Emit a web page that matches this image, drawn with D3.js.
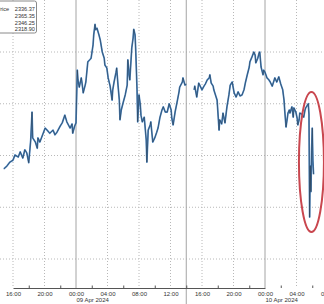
<!DOCTYPE html>
<html>
<head>
<meta charset="utf-8">
<script src="https://cdn.jsdelivr.net/npm/d3@7"></script>
<style>
  html, body { margin: 0; padding: 0; background: #fff; }
  svg { display: block; font-family: "Liberation Sans", Arial, sans-serif; }
</style>
</head>
<body>
<svg width="324" height="304"></svg>
<script>
// price readings, two sessions split by the daily break (null = no trading)
const times = [
  "2024-04-08 14:50","2024-04-08 15:15","2024-04-08 15:35","2024-04-08 16:00","2024-04-08 16:15",
  "2024-04-08 16:40","2024-04-08 16:55","2024-04-08 17:15","2024-04-08 17:30","2024-04-08 17:45",
  "2024-04-08 18:00","2024-04-08 18:15","2024-04-08 18:25","2024-04-08 18:30","2024-04-08 18:50",
  "2024-04-08 19:05","2024-04-08 19:10","2024-04-08 19:25","2024-04-08 19:50","2024-04-08 20:05",
  "2024-04-08 20:20","2024-04-08 20:40","2024-04-08 21:05","2024-04-08 21:20","2024-04-08 21:35",
  "2024-04-08 22:00","2024-04-08 22:15","2024-04-08 22:35","2024-04-08 22:50","2024-04-08 23:15",
  "2024-04-08 23:30","2024-04-08 23:35","2024-04-08 23:50","2024-04-09 00:00","2024-04-09 00:10",
  "2024-04-09 00:15","2024-04-09 00:25","2024-04-09 00:40","2024-04-09 00:45","2024-04-09 00:55",
  "2024-04-09 01:10","2024-04-09 01:15","2024-04-09 01:30","2024-04-09 01:45","2024-04-09 01:55",
  "2024-04-09 02:10","2024-04-09 02:15","2024-04-09 02:25","2024-04-09 02:30","2024-04-09 02:40",
  "2024-04-09 02:55","2024-04-09 03:05","2024-04-09 03:20","2024-04-09 03:35","2024-04-09 03:40",
  "2024-04-09 03:55","2024-04-09 04:05","2024-04-09 04:20","2024-04-09 04:35","2024-04-09 04:40",
  "2024-04-09 04:50","2024-04-09 05:05","2024-04-09 05:10","2024-04-09 05:20","2024-04-09 05:30",
  "2024-04-09 05:35","2024-04-09 05:45","2024-04-09 06:00","2024-04-09 06:15","2024-04-09 06:30",
  "2024-04-09 06:35","2024-04-09 06:45","2024-04-09 06:50","2024-04-09 07:05","2024-04-09 07:15",
  "2024-04-09 07:20","2024-04-09 07:30","2024-04-09 07:35","2024-04-09 07:45","2024-04-09 07:50",
  "2024-04-09 08:00","2024-04-09 08:10","2024-04-09 08:15","2024-04-09 08:25","2024-04-09 08:40",
  "2024-04-09 08:55","2024-04-09 09:00","2024-04-09 09:10","2024-04-09 09:25","2024-04-09 09:30",
  "2024-04-09 09:45","2024-04-09 10:00","2024-04-09 10:15","2024-04-09 10:25","2024-04-09 10:40",
  "2024-04-09 10:55","2024-04-09 11:05","2024-04-09 11:20","2024-04-09 11:35","2024-04-09 11:50",
  "2024-04-09 12:05","2024-04-09 12:10","2024-04-09 12:20","2024-04-09 12:35","2024-04-09 12:50",
  "2024-04-09 13:05","2024-04-09 13:10","2024-04-09 13:30","2024-04-09 13:35","2024-04-09 13:50",
  "2024-04-09 14:00","2024-04-09 14:30",
  "2024-04-09 15:00","2024-04-09 15:05","2024-04-09 15:20","2024-04-09 15:35","2024-04-09 16:00",
  "2024-04-09 16:15","2024-04-09 16:25","2024-04-09 16:40","2024-04-09 16:55","2024-04-09 17:00",
  "2024-04-09 17:10","2024-04-09 17:25","2024-04-09 17:30","2024-04-09 17:45","2024-04-09 17:55",
  "2024-04-09 18:00","2024-04-09 18:10","2024-04-09 18:15","2024-04-09 18:30","2024-04-09 18:40",
  "2024-04-09 18:55","2024-04-09 19:10","2024-04-09 19:25","2024-04-09 19:35","2024-04-09 19:50",
  "2024-04-09 20:05","2024-04-09 20:20","2024-04-09 20:35","2024-04-09 20:50","2024-04-09 21:05",
  "2024-04-09 21:20","2024-04-09 21:30","2024-04-09 21:45","2024-04-09 22:00","2024-04-09 22:05",
  "2024-04-09 22:20","2024-04-09 22:35","2024-04-09 22:45","2024-04-09 22:50","2024-04-09 23:05",
  "2024-04-09 23:15","2024-04-09 23:20","2024-04-09 23:30","2024-04-09 23:45","2024-04-09 23:50",
  "2024-04-10 00:00","2024-04-10 00:15","2024-04-10 00:30","2024-04-10 00:40","2024-04-10 00:55",
  "2024-04-10 01:10","2024-04-10 01:15","2024-04-10 01:30","2024-04-10 01:45","2024-04-10 02:00",
  "2024-04-10 02:15","2024-04-10 02:25","2024-04-10 02:30","2024-04-10 02:40","2024-04-10 02:50",
  "2024-04-10 02:55","2024-04-10 03:05","2024-04-10 03:10","2024-04-10 03:25","2024-04-10 03:35",
  "2024-04-10 03:40","2024-04-10 03:55","2024-04-10 04:05","2024-04-10 04:10","2024-04-10 04:20",
  "2024-04-10 04:25","2024-04-10 04:40","2024-04-10 04:55","2024-04-10 05:05","2024-04-10 05:10",
  "2024-04-10 05:30","2024-04-10 05:35","2024-04-10 05:40","2024-04-10 05:45","2024-04-10 05:50",
  "2024-04-10 05:55","2024-04-10 06:00","2024-04-10 06:05","2024-04-10 06:10"
];
const prices = [
  2337.4,2338.0,2338.7,2339.1,2340.1,
  2339.7,2340.7,2339.5,2341.1,2340.5,
  2338.6,2343.0,2348.4,2343.4,2342.6,
  2341.4,2343.4,2342.6,2344.3,2345.3,
  2344.9,2344.3,2344.9,2344.0,2344.5,
  2345.7,2346.3,2347.8,2346.5,2345.3,
  2346.1,2344.3,2345.7,2346.3,2356.5,
  2354.6,2353.2,2355.0,2354.2,2352.1,
  2353.6,2354.2,2358.1,2358.5,2358.8,
  2361.4,2363.3,2365.35,2364.3,2364.6,
  2363.3,2362.3,2360.0,2358.8,2357.5,
  2356.9,2355.0,2353.4,2350.7,2352.7,
  2354.2,2356.1,2356.9,2353.6,2350.7,
  2346.9,2348.8,2350.3,2351.7,2353.6,
  2358.5,2355.6,2354.6,2360.8,2362.7,
  2364.4,2363.3,2360.4,2352.7,2346.5,
  2351.7,2349.8,2347.8,2346.5,2347.4,
  2343.0,2338.7,2344.9,2345.9,2346.5,
  2342.6,2343.4,2344.5,2345.3,2347.4,
  2348.8,2349.4,2348.4,2348.4,2350.0,
  2348.8,2347.2,2345.9,2348.4,2350.3,
  2352.3,2353.2,2354.2,2355.0,2353.6,
  2353.8,null,
  2352.7,2353.4,2351.3,2354.0,2352.7,
  2353.4,2353.8,2354.6,2355.0,2355.6,
  2354.0,2353.4,2352.7,2351.5,2350.7,
  2348.8,2344.9,2346.9,2346.1,2348.2,
  2346.3,2349.4,2351.7,2353.6,2354.2,
  2352.1,2351.3,2352.3,2351.5,2351.7,
  2352.7,2354.0,2355.6,2357.1,2358.1,
  2359.0,2360.0,2359.4,2357.9,2358.8,
  2359.8,2360.0,2357.1,2355.6,2356.5,
  2356.1,2355.0,2354.6,2354.2,2353.4,
  2354.6,2355.0,2354.2,2355.2,2353.8,
  2352.7,2350.7,2348.8,2345.5,2347.2,
  2348.2,2348.8,2348.2,2349.4,2347.4,
  2349.2,2348.4,2347.2,2345.9,2346.9,
  2348.2,2348.0,2347.4,2348.8,2349.2,
  2350.0,2348.0,2328.1,2338.0,2333.0,
  2341.0,2345.3,2339.0,2336.37
];
const priceTicks = [2320, 2330, 2340, 2350, 2360, 2370];
const legendLabel = "Price";
const legendValues = [2336.37, 2365.35, 2346.25, 2318.90];
const dateLabels = ["2024-04-09 00:00", "2024-04-10 00:00"];
const sessionBreaks = ["2024-04-09 14:00"];

const W = 324, H = 304, axisY = 288;
const parse = d3.timeParse("%Y-%m-%d %H:%M");
const data = times.map((t, i) => ({ t: parse(t), v: prices[i] }));

const x = d3.scaleTime()
  .domain([parse("2024-04-08 16:00"), parse("2024-04-10 00:00")])
  .range([13, 265]);
const y = d3.scaleLinear()
  .domain([2320, 2360])
  .range([259, 52]);

const svg = d3.select("svg");
const t0 = x.invert(0), t1 = x.invert(W + 20);

// horizontal grid
svg.append("g")
  .selectAll("line")
  .data(priceTicks.filter(p => y(p) > 2 && y(p) < axisY - 2))
  .join("line")
  .attr("x1", 0).attr("x2", W)
  .attr("y1", d => y(d)).attr("y2", d => y(d))
  .attr("stroke", "#b8b8b8")
  .attr("stroke-dasharray", "1,2");

// vertical grid: dotted every 4h, solid at midnight
const major = d3.timeHour.every(4).range(t0, t1);
svg.append("g")
  .selectAll("line")
  .data(major)
  .join("line")
  .attr("x1", d => x(d)).attr("x2", d => x(d))
  .attr("y1", 0).attr("y2", axisY)
  .attr("stroke", d => d.getHours() === 0 ? "#a4a4a4" : "#b8b8b8")
  .attr("stroke-dasharray", d => d.getHours() === 0 ? null : "1,2");

// session break line runs through the date row too
svg.append("g")
  .selectAll("line")
  .data(sessionBreaks.map(parse))
  .join("line")
  .attr("x1", d => x(d)).attr("x2", d => x(d))
  .attr("y1", 0).attr("y2", H)
  .attr("stroke", "#a4a4a4");

// price line
const line = d3.line()
  .defined(d => d.v != null)
  .x(d => x(d.t))
  .y(d => y(d.v));

svg.append("path")
  .datum(data)
  .attr("fill", "none")
  .attr("stroke", "#4a86c4")
  .attr("stroke-width", 1.7)
  .attr("stroke-linejoin", "round")
  .attr("d", line);
svg.append("path")
  .datum(data)
  .attr("fill", "none")
  .attr("stroke", "#26313c")
  .attr("stroke-width", 0.7)
  .attr("stroke-opacity", 0.75)
  .attr("stroke-linejoin", "round")
  .attr("d", line);

// red highlight round the sell-off
const sell = data.slice(-9);
const sx = d3.extent(sell, d => x(d.t));
svg.append("ellipse")
  .attr("cx", (sx[0] + sx[1]) / 2 + 0.5)
  .attr("cy", 162)
  .attr("rx", 12.5)
  .attr("ry", 70)
  .attr("fill", "none")
  .attr("stroke", "#c9474f")
  .attr("stroke-width", 2);

// x axis
const xAxis = d3.axisBottom(x)
  .tickValues(major)
  .tickFormat(d3.timeFormat("%H:%M"))
  .tickSize(0)
  .tickPadding(3.5);
const gx = svg.append("g")
  .attr("transform", `translate(0,${axisY})`)
  .call(xAxis);
gx.select(".domain").attr("stroke", "#555");
gx.selectAll("text")
  .attr("font-family", "Liberation Sans, Arial, sans-serif")
  .attr("font-size", 6)
  .attr("fill", "#333");

const minor = d3.timeHour.every(2).range(t0, t1).filter(d => d.getHours() % 4 === 2);
const gm = svg.append("g")
  .attr("transform", `translate(0,${axisY})`)
  .call(d3.axisBottom(x).tickValues(minor).tickFormat("").tickSizeInner(-2.5).tickSizeOuter(0));
gm.select(".domain").remove();
gm.selectAll("line").attr("stroke", "#555");

svg.append("g")
  .selectAll("text")
  .data(dateLabels.map(parse))
  .join("text")
  .attr("x", d => x(d) + 0.5)
  .attr("y", 301.7)
  .attr("font-size", 6)
  .attr("fill", "#333")
  .text(d3.timeFormat("%d %b %Y"));

// legend box
const lg = svg.append("g");
lg.append("rect")
  .attr("x", -6).attr("y", 1)
  .attr("width", 42.5).attr("height", 32)
  .attr("rx", 2)
  .attr("fill", "#fff")
  .attr("stroke", "#8a8a8a");
lg.append("text")
  .attr("x", -3.6).attr("y", 11)
  .attr("font-size", 5.6)
  .attr("fill", "#333")
  .text(legendLabel);
lg.selectAll("text.val")
  .data(legendValues)
  .join("text")
  .attr("class", "val")
  .attr("x", 35).attr("y", (d, i) => 11 + i * 6.8)
  .attr("text-anchor", "end")
  .attr("font-size", 5.6)
  .attr("fill", "#333")
  .text(d => d.toFixed(2));
</script>
</body>
</html>
